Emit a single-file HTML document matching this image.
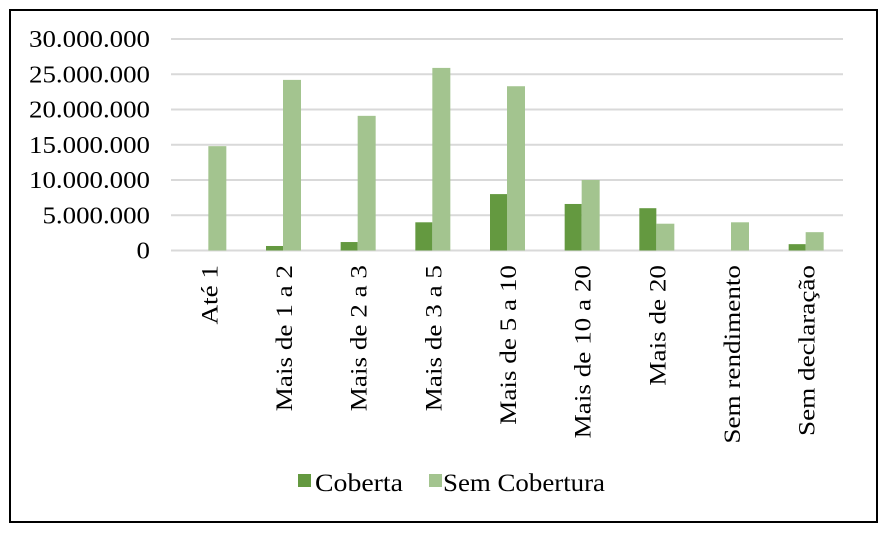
<!DOCTYPE html>
<html><head><meta charset="utf-8"><style>
html,body{margin:0;padding:0;background:#fff;}
svg{display:block;font-family:"Liberation Serif",serif;}
</style></head><body>
<svg id="chart" width="888" height="538" viewBox="0 0 888 538">
<rect x="10" y="10" width="867" height="512" fill="#fff" stroke="#000" stroke-width="2"/>
<g id="grid"></g><g id="bars"></g><g id="ylabels"></g><g id="xlabels"></g>
<g>
<rect x="298" y="474" width="13" height="13" fill="#649940"/>
<text x="315" y="491" font-size="25" textLength="88" lengthAdjust="spacingAndGlyphs">Coberta</text>
<rect x="429" y="474" width="13" height="13" fill="#a3c48f"/>
<text x="443" y="491" font-size="25" textLength="162" lengthAdjust="spacingAndGlyphs">Sem Cobertura</text>
</g>
</svg>
<script>
const categories=["Até 1","Mais de 1 a 2","Mais de 2 a 3","Mais de 3 a 5","Mais de 5 a 10","Mais de 10 a 20","Mais de 20","Sem rendimento","Sem declaração"];
const coberta=[0,640000,1200000,4000000,8000000,6600000,6000000,0,900000];
const semCobertura=[14800000,24200000,19100000,25900000,23300000,10000000,3800000,4000000,2600000];
const yTicks=[0,5000000,10000000,15000000,20000000,25000000,30000000];
const yTickLabels=["0","5.000.000","10.000.000","15.000.000","20.000.000","25.000.000","30.000.000"];
const NS="http://www.w3.org/2000/svg";
const x0=171,x1=843,yBase=250.5,yTop=39,yMax=30000000;
function y(v){return yBase-(v/yMax)*(yBase-yTop);}
function cx(i){return x0+(i+0.5)*(x1-x0)/categories.length;}
function mk(tag,attrs,parent){const e=document.createElementNS(NS,tag);for(const k in attrs)e.setAttribute(k,attrs[k]);document.getElementById(parent).appendChild(e);return e;}
yTicks.forEach((t,i)=>{
  const l=mk('line',{x1:x0,x2:x1,y1:y(t),y2:y(t),stroke:'#d9d9d9','stroke-width':2},'grid');
  
  
  const tx=mk('text',{x:150,y:y(t)+8,'text-anchor':'end','font-size':24},'ylabels');
  
  
  tx.textContent=yTickLabels[i];
  const w=tx.getComputedTextLength();
  tx.setAttribute('textLength',w*1.12);
  tx.setAttribute('lengthAdjust','spacingAndGlyphs');
});
categories.forEach((c,i)=>{
  const c0=cx(i);
  const b1=mk('rect',{x:c0-17,y:y(coberta[i]),width:17,height:yBase-y(coberta[i]),fill:'#649940'},'bars');
  
  
  const b2=mk('rect',{x:c0,y:y(semCobertura[i]),width:18,height:yBase-y(semCobertura[i]),fill:'#a3c48f'},'bars');
  
  
  const t=mk('text',{x:0,y:0,'text-anchor':'end','font-size':23,transform:'translate('+(c0+9)+',265) rotate(-90)'},'xlabels');
  
  
  t.textContent=c;
  const w=t.getComputedTextLength();
  t.setAttribute('textLength',w*1.18);
  t.setAttribute('lengthAdjust','spacingAndGlyphs');
});
</script>
</body></html>
